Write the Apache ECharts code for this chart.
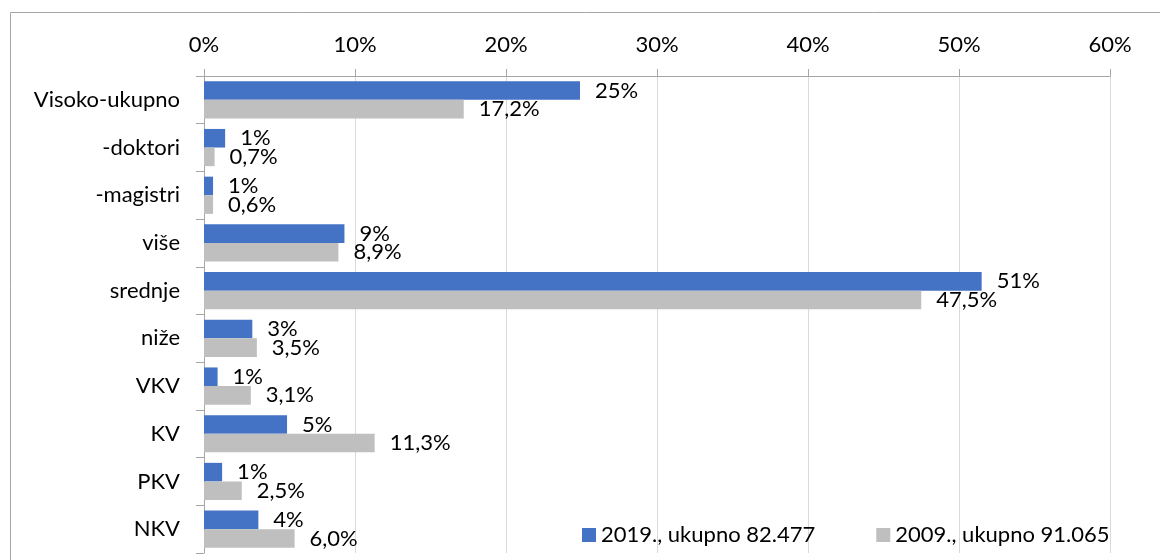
<!DOCTYPE html>
<html>
<head>
<meta charset="utf-8">
<script src="https://cdn.jsdelivr.net/npm/echarts@6/dist/echarts.min.js"></script>
<style>
  html, body { margin: 0; padding: 0; background: #fff; }
  #chartmain { width: 1160px; height: 560px; }
</style>
</head>
<body>
<div id="chartmain"></div>
<script>
var categories = ['Visoko-ukupno', '-doktori', '-magistri', 'više', 'srednje', 'niže', 'VKV', 'KV', 'PKV', 'NKV'];
// 2019 bar lengths; the printed labels are rounded
var values2019 = [24.9, 1.4, 0.6, 9.3, 51.5, 3.2, 0.9, 5.5, 1.2, 3.6];
var labels2019 = ['25%', '1%', '1%', '9%', '51%', '3%', '1%', '5%', '1%', '4%'];
var values2009 = [17.2, 0.7, 0.6, 8.9, 47.5, 3.5, 3.1, 11.3, 2.5, 6.0];
var seriesNames = ['2019., ukupno 82.477', '2009., ukupno 91.065'];
var xTicks = [0, 10, 20, 30, 40, 50, 60];

var FONT = 'Lato';
var chart = echarts.init(document.getElementById('chartmain'));

function barLabel(fmt) {
    return {
        show: true,
        position: 'right',
        distance: 15,
        fontFamily: FONT,
        fontSize: 22,
        color: '#000',
        formatter: fmt
    };
}

var option = {
    animation: false,
    textStyle: { fontFamily: FONT },
    graphic: [{
        type: 'rect',
        shape: { x: 10.5, y: 12.5, width: 1200, height: 600 },
        style: { fill: 'none', stroke: '#a6a6a6', lineWidth: 1 },
        silent: true
    }],
    legend: {
        left: 582,
        top: 524,
        padding: 0,
        icon: 'rect',
        itemWidth: 14,
        itemHeight: 14,
        itemGap: 61,
        textStyle: { fontFamily: FONT, fontSize: 22, color: '#000', padding: [0, 0, 0, 0] },
        data: seriesNames
    },
    grid: { left: 204, right: 50, top: 76, bottom: 7 },
    xAxis: {
        type: 'value',
        position: 'top',
        min: xTicks[0],
        max: xTicks[xTicks.length - 1],
        interval: 10,
        axisLine: { show: true, lineStyle: { color: '#a6a6a6' } },
        axisTick: { show: true, length: 7, lineStyle: { color: '#a6a6a6' } },
        axisLabel: { fontFamily: FONT, fontSize: 22, color: '#000', margin: 20, formatter: '{value}%' },
        splitLine: { show: true, lineStyle: { color: '#d9d9d9' } }
    },
    yAxis: {
        type: 'category',
        inverse: true,
        data: categories,
        axisLine: { show: true, lineStyle: { color: '#a6a6a6' } },
        axisTick: { show: true, length: 8, lineStyle: { color: '#a6a6a6' } },
        axisLabel: { fontFamily: FONT, fontSize: 22, color: '#000', margin: 24 }
    },
    series: [{
        name: seriesNames[0],
        type: 'bar',
        data: values2019,
        barGap: '0%',
        barCategoryGap: '22%',
        itemStyle: { color: '#4472c4' },
        label: barLabel(function (p) { return labels2019[p.dataIndex]; })
    }, {
        name: seriesNames[1],
        type: 'bar',
        data: values2009,
        barGap: '0%',
        barCategoryGap: '22%',
        itemStyle: { color: '#bfbfbf' },
        label: barLabel(function (p) { return p.value.toFixed(1).replace('.', ',') + '%'; })
    }]
};

chart.setOption(option);
</script>
</body>
</html>
